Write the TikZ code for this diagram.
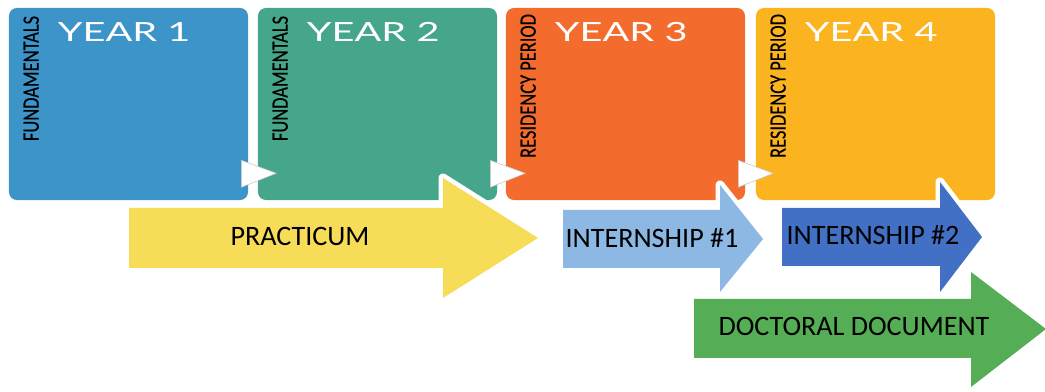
\documentclass[tikz,border=0pt]{standalone}
\usepackage{fontspec}
\usepackage{xcolor}
\usepackage{tikz}
\usetikzlibrary{positioning,calc}
\setmainfont{Carlito}
\newfontfamily\yearfont[FakeStretch=1.5]{Lato}
\newfontfamily\sidefont[FakeStretch=0.79,FakeBold=0.3]{Carlito}
\newcommand{\yr}[1]{{\yearfont\fontsize{18.8}{20}\selectfont #1}}
\newcommand{\side}[1]{{\sidefont\fontsize{16.6}{18}\selectfont #1}}
\newcommand{\arm}[1]{{\fontsize{20}{24}\selectfont #1}}

\definecolor{yearone}{HTML}{3C94C9}
\definecolor{yeartwo}{HTML}{46A68B}
\definecolor{yearthree}{HTML}{F36C2E}
\definecolor{yearfour}{HTML}{FBB420}
\definecolor{practicum}{HTML}{F7DC58}
\definecolor{internone}{HTML}{8DB8E4}
\definecolor{interntwo}{HTML}{4170C4}
\definecolor{doctoral}{HTML}{55AE55}

\begin{document}
\begin{tikzpicture}[x=0.025cm,y=-0.025cm,
    yearbox/.style={minimum width=5.975cm,minimum height=4.8cm,inner sep=0pt,rounded corners=0.2cm},
    yeartext/.style={white,anchor=base west,inner sep=0pt},
    sidetext/.style={black,rotate=90,anchor=base east,inner sep=0pt},
    joint/.style={fill=white,draw=gray!45,line width=0.4pt},
    bigarrow/.style={preaction={draw=white,line width=6.4pt,line join=round}},
    armtext/.style={black,anchor=base,inner sep=0pt}]
    \useasboundingbox (0,0) rectangle (1045,392);

    % Year boxes
    \node[yearbox,fill=yearone] (y1) at (128.5,104) {};
    \node[yearbox,fill=yeartwo] (y2) at (377.5,104) {};
    \node[yearbox,fill=yearthree] (y3) at (625.5,104) {};
    \node[yearbox,fill=yearfour] (y4) at (875.5,104) {};

    % Titles
    \node[yeartext] (t1) at ($(y1.north west)+(49,34)$) {\yr{YEAR 1}};
    \node[yeartext] (t2) at ($(y2.north west)+(49,34)$) {\yr{YEAR 2}};
    \node[yeartext] (t3) at ($(y3.north west)+(49,34)$) {\yr{YEAR 3}};
    \node[yeartext] (t4) at ($(y4.north west)+(49,34)$) {\yr{YEAR 4}};

    % Side labels
    \node[sidetext] (s1) at ($(y1.north west)+(30,8)$) {\side{FUNDAMENTALS}};
    \node[sidetext] (s2) at ($(y2.north west)+(30,8)$) {\side{FUNDAMENTALS}};
    \node[sidetext] (s3) at ($(y3.north west)+(30,6)$) {\side{RESIDENCY PERIOD}};
    \node[sidetext] (s4) at ($(y4.north west)+(30,6)$) {\side{RESIDENCY PERIOD}};

    % Small triangles between the years
    \foreach \a in {y1,y2,y3}
        \draw[joint] ($(\a.south east)+(-7,-40)$) -- ($(\a.south east)+(28,-27)$)
            -- ($(\a.south east)+(-7,-13)$) -- cycle;

    % Practicum
    \fill[practicum,bigarrow] (129,208) -- (443,208) -- (443,178) -- (538,238)
        -- (443,298) -- (443,268) -- (129,268) -- cycle;
    \node[armtext] (pr) at (300,246) {\arm{PRACTICUM}};

    % Internship #1
    \fill[internone,bigarrow] (563,210) -- (720,210) -- (720,185) -- (763,239)
        -- (720,292) -- (720,268) -- (563,268) -- cycle;
    \node[armtext] (i1) at (652,248) {\arm{INTERNSHIP \#1}};

    % Internship #2
    \fill[interntwo,bigarrow] (782,208) -- (940,208) -- (940,182) -- (982,237)
        -- (940,292) -- (940,266) -- (782,266) -- cycle;
    \node[armtext] (i2) at (873,245) {\arm{INTERNSHIP \#2}};

    % Doctoral document
    \fill[doctoral,bigarrow] (694,299) -- (971,299) -- (971,272) -- (1046,329)
        -- (971,387) -- (971,358) -- (694,358) -- cycle;
    \node[armtext] (dd) at (854,336) {\arm{DOCTORAL DOCUMENT}};
\end{tikzpicture}
\end{document}
